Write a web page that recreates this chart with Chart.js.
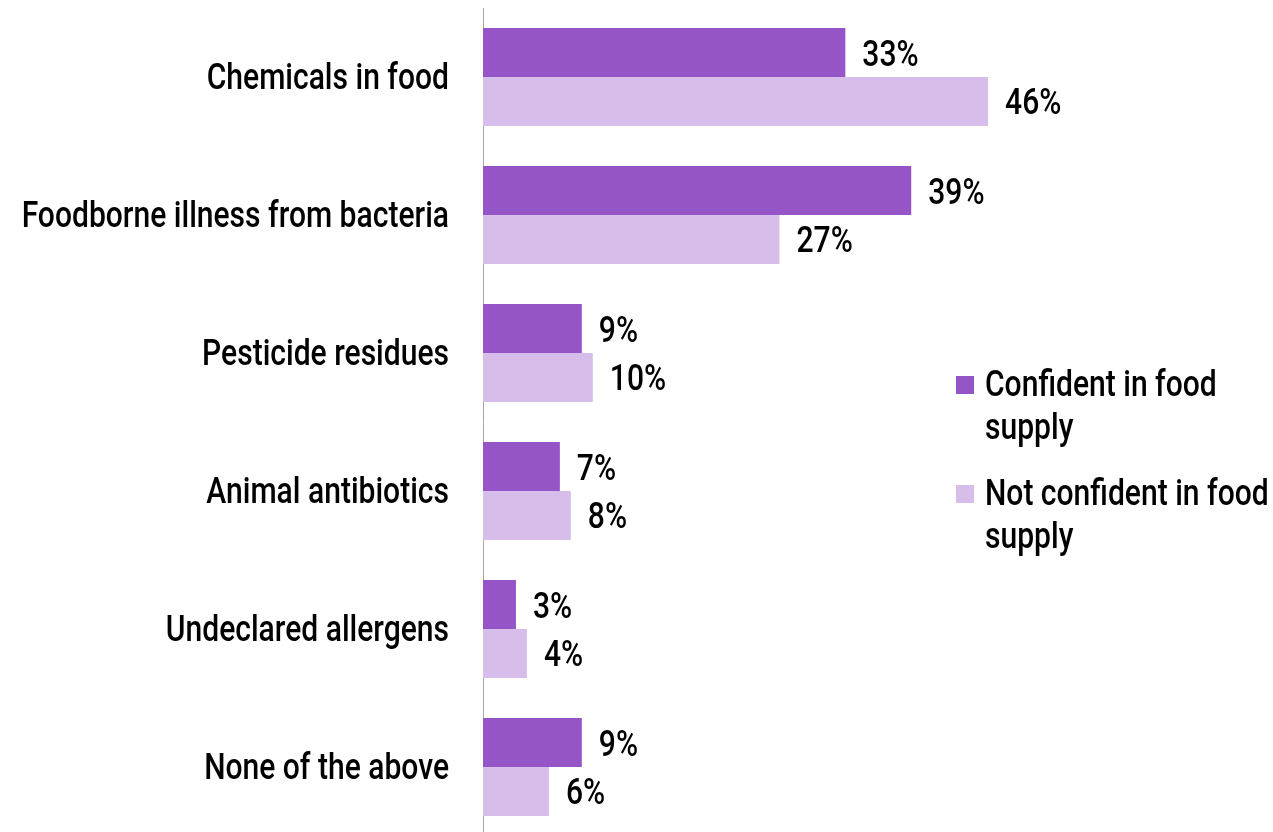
<!DOCTYPE html>
<html>
<head>
<meta charset="utf-8">
<script src="https://cdn.jsdelivr.net/npm/chart.js@4/dist/chart.umd.min.js"></script>
<style>
  html, body { margin: 0; padding: 0; background: #fff; overflow: hidden; }
  #wrap { width: 1273px; height: 840px; position: relative; }
</style>
</head>
<body>
<div id="wrap"><canvas id="concernChart"></canvas></div>
<script>
const categories = [
  'Chemicals in food',
  'Foodborne illness from bacteria',
  'Pesticide residues',
  'Animal antibiotics',
  'Undeclared allergens',
  'None of the above'
];
const confidentValues = [33, 39, 9, 7, 3, 9];
const notConfidentValues = [46, 27, 10, 8, 4, 6];
const seriesNames = ['Confident in food supply', 'Not confident in food supply'];
const seriesColors = ['#9555C6', '#D7BEEA'];

const FONT = `500 36px Roboto, "Liberation Sans", sans-serif`;
const SQUEEZE = 0.835; // condensed look: narrow the glyphs horizontally

function squeezedText(ctx, text, x, y, align) {
  ctx.save();
  ctx.translate(x, y);
  ctx.scale(SQUEEZE, 1);
  ctx.textAlign = align;
  ctx.fillText(text, 0, 0);
  ctx.restore();
}

// category names left of the axis
const categoryLabels = {
  id: 'categoryLabels',
  afterDraw(chart) {
    const { ctx, chartArea } = chart;
    const yScale = chart.scales.y;
    ctx.save();
    ctx.font = FONT;
    ctx.fillStyle = '#000';
    ctx.textBaseline = 'middle';
    chart.data.labels.forEach((label, i) => {
      squeezedText(ctx, label, chartArea.left - 34, yScale.getPixelForValue(i) + 3, 'right');
    });
    ctx.restore();
  }
};

// value labels to the right of each bar
const barLabels = {
  id: 'barLabels',
  afterDatasetsDraw(chart) {
    const { ctx } = chart;
    ctx.save();
    ctx.font = FONT;
    ctx.fillStyle = '#000';
    ctx.textBaseline = 'middle';
    chart.data.datasets.forEach((ds, i) => {
      chart.getDatasetMeta(i).data.forEach((bar, j) => {
        squeezedText(ctx, ds.data[j] + '%', bar.x + 17, bar.y + 4, 'left');
      });
    });
    ctx.restore();
  }
};

// legend with wrapped labels, drawn beside the plot
const sideLegend = {
  id: 'sideLegend',
  afterDraw(chart) {
    const { ctx } = chart;
    const left = 956, top = 385, itemGap = 109, lineGap = 43, maxWidth = 295;
    ctx.save();
    ctx.font = FONT;
    ctx.textBaseline = 'middle';
    chart.data.datasets.forEach((ds, i) => {
      const y = top + i * itemGap;
      ctx.fillStyle = ds.backgroundColor;
      ctx.fillRect(left, y - 9, 18, 18);
      // simple word wrap on the narrowed width
      const words = ds.label.split(' ');
      const lines = [];
      let line = '';
      words.forEach(w => {
        const test = line ? line + ' ' + w : w;
        if (ctx.measureText(test).width * SQUEEZE > maxWidth && line) {
          lines.push(line);
          line = w;
        } else {
          line = test;
        }
      });
      lines.push(line);
      ctx.fillStyle = '#000';
      lines.forEach((l, k) => squeezedText(ctx, l, left + 29, y + 2 + k * lineGap, 'left'));
    });
    ctx.restore();
  }
};

const ctx = document.getElementById('concernChart').getContext('2d');
new Chart(ctx, {
  type: 'bar',
  data: {
    labels: categories,
    datasets: [
      { label: seriesNames[0], data: confidentValues, backgroundColor: seriesColors[0] },
      { label: seriesNames[1], data: notConfidentValues, backgroundColor: seriesColors[1] }
    ]
  },
  options: {
    indexAxis: 'y',
    responsive: true,
    maintainAspectRatio: false,
    animation: false,
    datasets: { bar: { categoryPercentage: 0.71, barPercentage: 1.0 } },
    layout: { padding: { top: 8, bottom: 4, left: 0, right: 241 } },
    plugins: { legend: { display: false }, tooltip: { enabled: false } },
    scales: {
      x: { display: false, min: 0, max: 50 },
      y: {
        grid: { display: false, drawTicks: false },
        border: { display: true, color: '#A6A6A6', width: 1 },
        ticks: { display: false },
        afterFit(axis) { axis.width = 483; }
      }
    }
  },
  plugins: [categoryLabels, barLabels, sideLegend]
});
</script>
</body>
</html>
